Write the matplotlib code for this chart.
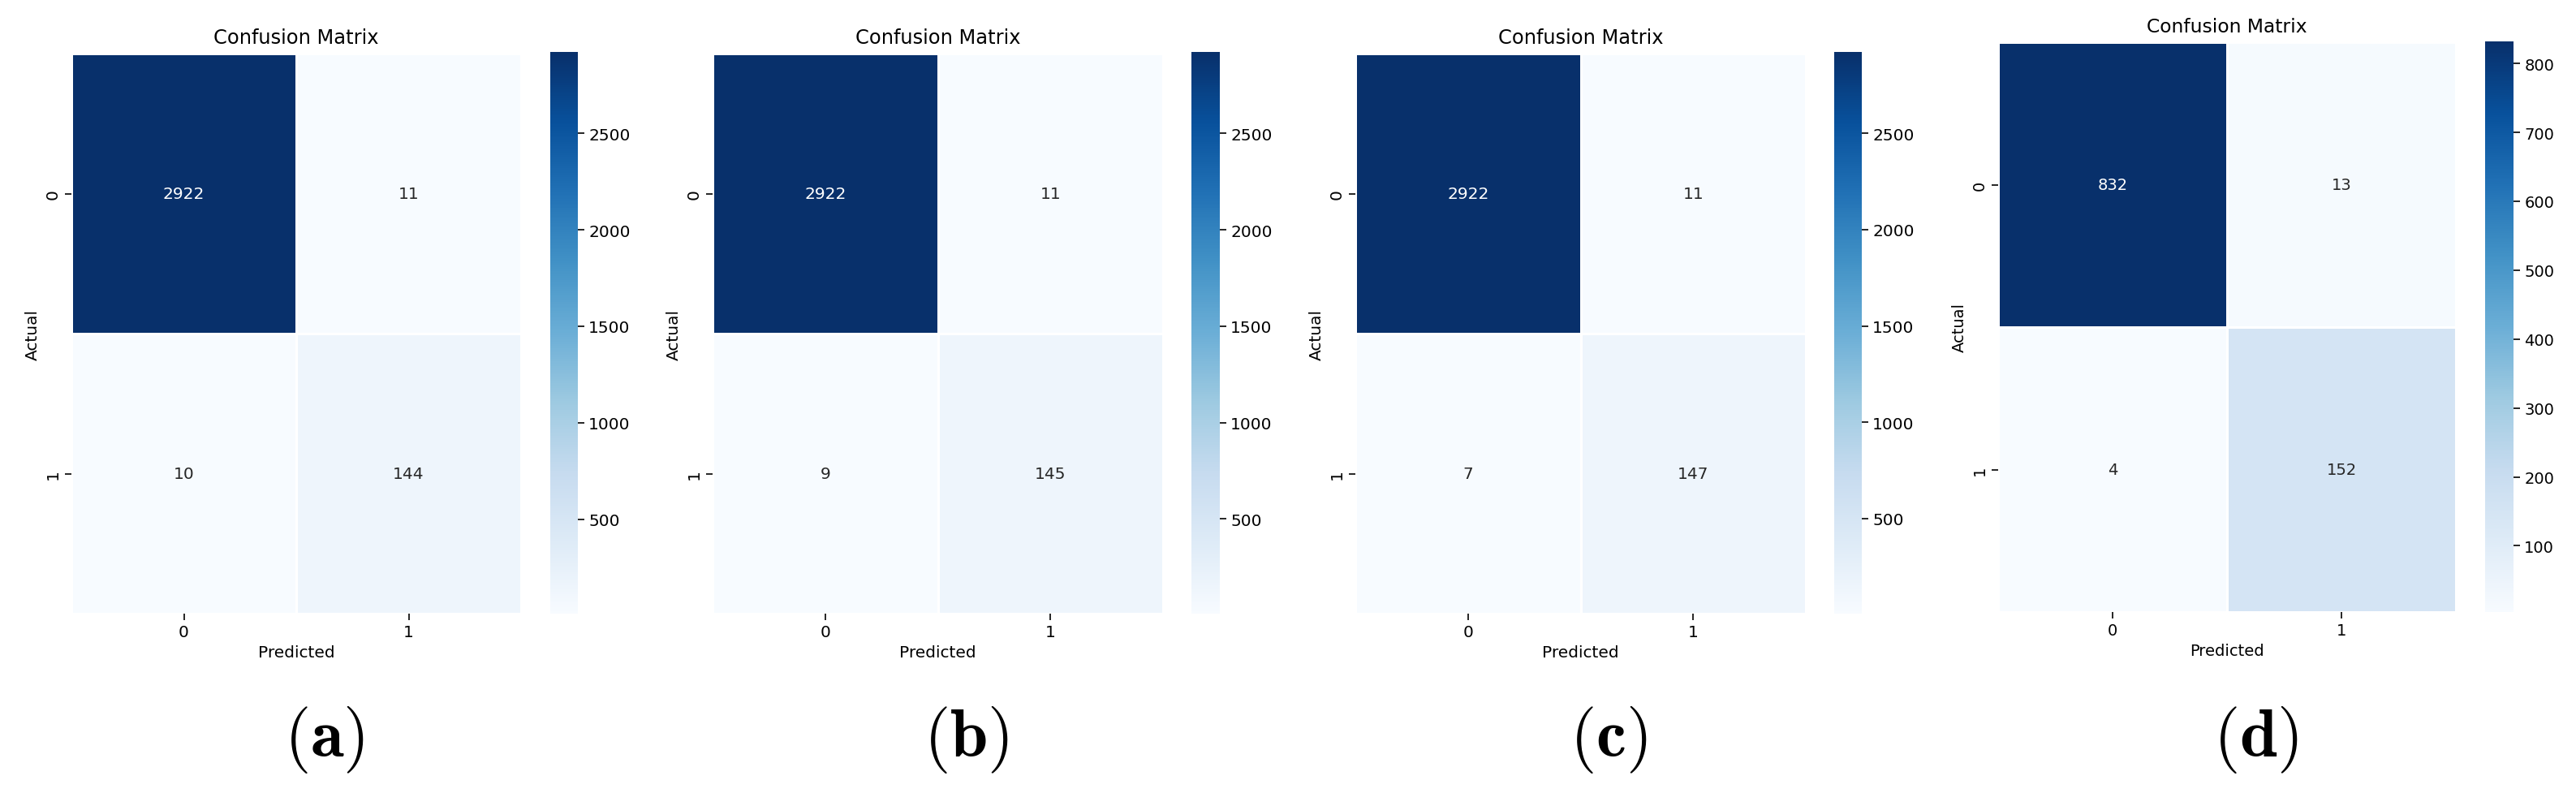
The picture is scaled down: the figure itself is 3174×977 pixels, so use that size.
import numpy as np
import matplotlib
matplotlib.use("Agg")
import matplotlib.pyplot as plt
import seaborn as sns

plt.rcParams['mathtext.fontset'] = 'cm'

class_labels = ["0", "1"]
panel_letters = ["a", "b", "c", "d"]
cm_a = [[2922, 11], [10, 144]]
cm_b = [[2922, 11], [9, 145]]
cm_c = [[2922, 11], [7, 147]]
cm_d = [[832, 13], [4, 152]]
matrices = [cm_a, cm_b, cm_c, cm_d]

W, H = 3174, 978
fig = plt.figure(figsize=(W / 100, H / 100), dpi=100)

def px_axes(x0, y0, x1, y1):
    return fig.add_axes([x0 / W, 1 - y1 / H, (x1 - x0) / W, (y1 - y0) / H])

# (heat x0, y0, x1, y1), (cbar x0, y0, x1, y1), font size
layouts = [
    ((88, 67, 642, 757), (678, 65, 712, 757), 14.5),
    ((878, 67, 1433, 757), (1468, 65, 1503, 757), 14.5),
    ((1670, 67, 2225, 757), (2260, 65, 2294, 757), 14.5),
    ((2462, 53, 3026, 755), (3062, 52, 3097, 755), 14),
]

for mat, letter, (hb, cb, fs) in zip(matrices, panel_letters, layouts):
    ax = px_axes(*hb)
    cax = px_axes(*cb)
    sns.heatmap(np.array(mat), annot=True, fmt="d", cmap="Blues",
                linewidths=1, linecolor="white", ax=ax, cbar_ax=cax,
                xticklabels=class_labels, yticklabels=class_labels,
                annot_kws={"fontsize": fs})
    ax.set_title("Confusion Matrix", fontsize=fs * 1.2, pad=9)
    ax.set_xlabel("Predicted", fontsize=fs)
    ax.set_ylabel("Actual", fontsize=fs)
    ax.tick_params(axis="both", labelsize=fs, length=6, width=1.2)
    cax.tick_params(labelsize=fs, length=6, width=1.2)
    cx = (hb[0] + cb[2]) / 2
    fig.text(cx / W, 1 - 912 / H, r"$\mathbf{(" + letter + r")}$",
             fontsize=60, ha="center", va="center")

fig.savefig("out.png", dpi=100, facecolor="white")
